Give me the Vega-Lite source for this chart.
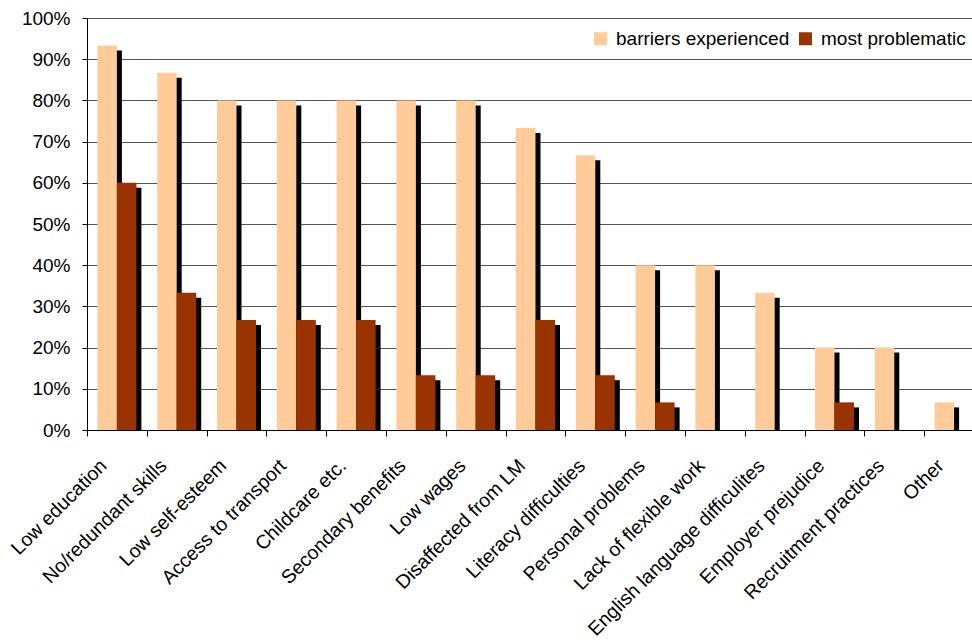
{
  "$schema": "https://vega.github.io/schema/vega-lite/v6.json",
  "width": 897,
  "height": 412,
  "autosize": {"type": "none"},
  "padding": {"left": 87, "top": 18, "right": 0, "bottom": 213},
  "background": "white",
  "config": {
    "font": "Liberation Sans",
    "view": {"stroke": null},
    "axis": {"labelColor": "#000", "labelFont": "Liberation Sans"},
    "legend": {"labelFont": "Liberation Sans"}
  },
  "data": {
    "values": [
      {"cause": "Low education", "series": "barriers experienced", "value": 0.933},
      {"cause": "Low education", "series": "most problematic", "value": 0.6},
      {"cause": "No/redundant skills", "series": "barriers experienced", "value": 0.867},
      {"cause": "No/redundant skills", "series": "most problematic", "value": 0.333},
      {"cause": "Low self-esteem", "series": "barriers experienced", "value": 0.8},
      {"cause": "Low self-esteem", "series": "most problematic", "value": 0.267},
      {"cause": "Access to transport", "series": "barriers experienced", "value": 0.8},
      {"cause": "Access to transport", "series": "most problematic", "value": 0.267},
      {"cause": "Childcare etc.", "series": "barriers experienced", "value": 0.8},
      {"cause": "Childcare etc.", "series": "most problematic", "value": 0.267},
      {"cause": "Secondary benefits", "series": "barriers experienced", "value": 0.8},
      {"cause": "Secondary benefits", "series": "most problematic", "value": 0.133},
      {"cause": "Low wages", "series": "barriers experienced", "value": 0.8},
      {"cause": "Low wages", "series": "most problematic", "value": 0.133},
      {"cause": "Disaffected from LM", "series": "barriers experienced", "value": 0.733},
      {"cause": "Disaffected from LM", "series": "most problematic", "value": 0.267},
      {"cause": "Literacy difficulties", "series": "barriers experienced", "value": 0.667},
      {"cause": "Literacy difficulties", "series": "most problematic", "value": 0.133},
      {"cause": "Personal problems", "series": "barriers experienced", "value": 0.4},
      {"cause": "Personal problems", "series": "most problematic", "value": 0.067},
      {"cause": "Lack of flexible work", "series": "barriers experienced", "value": 0.4},
      {"cause": "Lack of flexible work", "series": "most problematic", "value": 0},
      {"cause": "English language difficulites", "series": "barriers experienced", "value": 0.333},
      {"cause": "English language difficulites", "series": "most problematic", "value": 0},
      {"cause": "Employer prejudice", "series": "barriers experienced", "value": 0.2},
      {"cause": "Employer prejudice", "series": "most problematic", "value": 0.067},
      {"cause": "Recruitment practices", "series": "barriers experienced", "value": 0.2},
      {"cause": "Recruitment practices", "series": "most problematic", "value": 0},
      {"cause": "Other", "series": "barriers experienced", "value": 0.067},
      {"cause": "Other", "series": "most problematic", "value": 0}
    ]
  },
  "encoding": {
    "x": {
      "field": "cause",
      "type": "nominal",
      "sort": null,
      "scale": {"paddingInner": 0, "paddingOuter": 0},
      "axis": {
        "title": null,
        "labelAngle": -45,
        "labelFontSize": 19.5,
        "labelPadding": 20,
        "labelOffset": -20,
        "labelLimit": 0,
        "tickBand": "extent",
        "tickSize": 6,
        "tickColor": "#000",
        "domainColor": "#000",
        "grid": false
      }
    },
    "y": {
      "field": "value",
      "type": "quantitative",
      "stack": null,
      "scale": {"domain": [0, 1], "nice": false},
      "axis": {
        "title": null,
        "format": ".0%",
        "values": [0, 0.1, 0.2, 0.3, 0.4, 0.5, 0.6, 0.7, 0.8, 0.9, 1],
        "labelFontSize": 19,
        "labelPadding": 12,
        "tickSize": 5,
        "tickColor": "#000",
        "domainColor": "#000",
        "gridColor": "#555",
        "grid": true
      }
    }
  },
  "layer": [
    {
      "transform": [{"filter": "datum.series == 'barriers experienced' && datum.value > 0"}],
      "mark": {"type": "bar", "color": "#000", "width": 19.5, "xOffset": -4.75, "yOffset": 5, "y2Offset": 0}
    },
    {
      "transform": [{"filter": "datum.series == 'most problematic' && datum.value > 0"}],
      "mark": {"type": "bar", "color": "#000", "width": 19.5, "xOffset": 14.75, "yOffset": 5, "y2Offset": 0}
    },
    {
      "transform": [{"filter": "datum.series == 'barriers experienced'"}],
      "mark": {"type": "bar", "width": 19.5, "xOffset": -9.75},
      "encoding": {
        "color": {
          "field": "series",
          "type": "nominal",
          "scale": {"domain": ["barriers experienced", "most problematic"], "range": ["#FFCC99", "#993300"]},
          "legend": {
            "title": null,
            "orient": "none",
            "legendX": 504,
            "legendY": 11,
            "padding": 0,
            "direction": "horizontal",
            "symbolType": "square",
            "symbolSize": 169,
            "symbolStrokeWidth": 0,
            "labelFontSize": 19,
            "labelLimit": 0,
            "labelColor": "#000",
            "labelOffset": 6,
            "columnPadding": 6
          }
        }
      }
    },
    {
      "transform": [{"filter": "datum.series == 'most problematic'"}],
      "mark": {"type": "bar", "width": 19.5, "xOffset": 9.75},
      "encoding": {
        "color": {"field": "series", "type": "nominal"}
      }
    }
  ]
}
